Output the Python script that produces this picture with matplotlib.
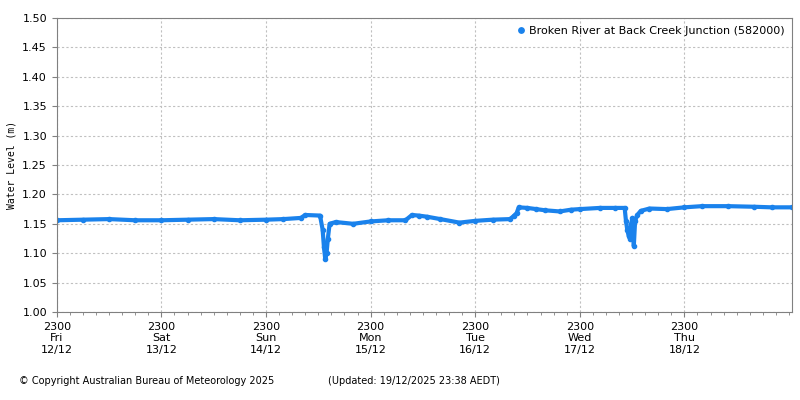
import matplotlib
matplotlib.use("Agg")
import matplotlib.pyplot as plt
from matplotlib.ticker import MultipleLocator

# hours since 2300 Fri 12/12, water level (m)
hours = [0, 6, 12, 18, 24, 30, 36, 42, 48, 52, 56, 57, 60.4, 61.0, 61.3, 61.6, 61.9, 62.2, 62.6,
         64, 68, 72, 76, 80, 81.5, 83, 85, 88, 92.4, 96, 100, 104, 104.8, 105.5, 106, 108, 110,
         112, 115.4, 118, 120, 124.6, 128, 130.3, 130.6, 130.9, 131.2, 131.5, 131.8, 132.1,
         132.4, 132.7, 133.2, 134, 136, 140, 144, 148, 154, 160, 164, 168.7]
levels = [1.156, 1.157, 1.158, 1.156, 1.156, 1.157, 1.158, 1.156, 1.157, 1.158, 1.160, 1.165,
          1.164, 1.14, 1.11, 1.09, 1.10, 1.125, 1.150, 1.153, 1.150, 1.154, 1.156, 1.156, 1.165,
          1.164, 1.162, 1.158, 1.152, 1.155, 1.157, 1.158, 1.163, 1.168, 1.178, 1.177, 1.175,
          1.173, 1.171, 1.174, 1.175, 1.177, 1.177, 1.177, 1.155, 1.14, 1.13, 1.125, 1.15,
          1.16, 1.112, 1.155, 1.165, 1.172, 1.176, 1.175, 1.178, 1.180, 1.180, 1.179, 1.178, 1.178]

day_labels = ["2300\nFri\n12/12", "2300\nSat\n13/12", "2300\nSun\n14/12", "2300\nMon\n15/12",
              "2300\nTue\n16/12", "2300\nWed\n17/12", "2300\nThu\n18/12"]

blue = "#1a82ec"
plt.rcParams["font.family"] = "DejaVu Sans"

fig = plt.figure(figsize=(8, 4), dpi=100)
ax = fig.add_axes([0.071, 0.22, 0.919, 0.735])

ax.plot(hours, levels, color=blue, lw=3, marker="o", ms=3, mec=blue,
        label="Broken River at Back Creek Junction (582000)")

ax.set_xlim(0, 168.7)
ax.set_ylim(1.0, 1.5)
ax.set_xticks([24 * i for i in range(len(day_labels))])
ax.set_xticklabels(day_labels, fontsize=8)
ax.xaxis.set_minor_locator(MultipleLocator(3))
ax.yaxis.set_major_locator(MultipleLocator(0.05))
ax.yaxis.set_major_formatter(matplotlib.ticker.FormatStrFormatter("%.2f"))
ax.tick_params(axis="y", labelsize=8)
ax.tick_params(axis="both", which="both", color="#808080")
ax.grid(True, color="#c0c0c0", ls=(0, (2, 2)), lw=0.8)
for s in ax.spines.values():
    s.set_color("#808080")
ax.set_ylabel("Water Level (m)", fontsize=7, family="DejaVu Sans Mono")

ax.legend(loc="upper right", frameon=False, fontsize=8, markerscale=1.3,
          handlelength=0.6, handletextpad=0.4, borderaxespad=0.3)
leg = ax.get_legend()
leg.get_lines()[0].set_linestyle("none")

fig.text(0.024, 0.04, "\u00a9 Copyright Australian Bureau of Meteorology 2025", fontsize=7)
fig.text(0.41, 0.04, "(Updated: 19/12/2025 23:38 AEDT)", fontsize=7)

fig.savefig("out.png", dpi=100)
